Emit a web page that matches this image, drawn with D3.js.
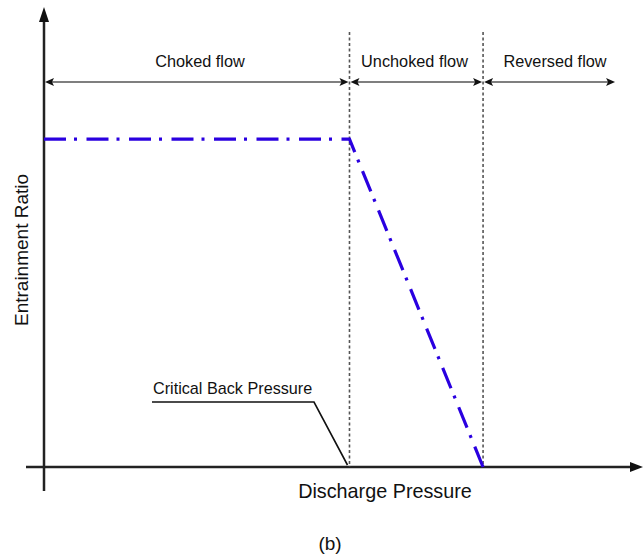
<!DOCTYPE html>
<html><head><meta charset="utf-8">
<script src="https://cdn.jsdelivr.net/npm/d3@7"></script>
<style>body{margin:0;background:#fff}svg{display:block}text{font-family:"Liberation Sans",Arial,sans-serif;fill:#111}</style>
</head><body><svg id="c" width="643" height="558"></svg>
<script>
// Schematic data (arbitrary units)
const regionNames = ["Choked flow", "Unchoked flow", "Reversed flow"];
const regionBounds = [0, 5.1, 7.33, 9.55];           // discharge pressure boundaries
const curveP = [0, 5.1, 7.33];                        // discharge pressure
const curveER = [1.0, 1.0, 0.0];                      // entrainment ratio
const xTitle = "Discharge Pressure";
const yTitle = "Entrainment Ratio";
const annotation = "Critical Back Pressure";
const caption = "(b)";

const svg = d3.select("#c");
const x = d3.scaleLinear().domain([0, 10]).range([44, 643]);
const y = d3.scaleLinear().domain([0, 1.4]).range([467, 8]);

// axes
svg.append("line").attr("x1", 26).attr("x2", 634).attr("y1", y(0)).attr("y2", y(0))
  .attr("stroke", "#222").attr("stroke-width", 2.5);
svg.append("path").attr("d", `M643,${y(0)} L630,${y(0)-5} L630,${y(0)+5} Z`).attr("fill", "#111");
svg.append("line").attr("x1", x(0)).attr("x2", x(0)).attr("y1", 491).attr("y2", 20)
  .attr("stroke", "#222").attr("stroke-width", 2.5);
svg.append("path").attr("d", `M${x(0)},7 L${x(0)-5},22 L${x(0)+5},22 Z`).attr("fill", "#111");

// dashed region boundaries
svg.selectAll("line.bd").data(regionBounds.slice(1, 3)).enter().append("line")
  .attr("x1", d => x(d)).attr("x2", d => x(d)).attr("y1", 32).attr("y2", y(0))
  .attr("stroke", "#555").attr("stroke-width", 1.6).attr("stroke-dasharray", "3,2.5");

// double arrows
const ay = 82;
regionNames.forEach((name, i) => {
  const a = x(regionBounds[i]), b = x(regionBounds[i + 1]);
  svg.append("line").attr("x1", a + 4).attr("x2", b - 4).attr("y1", ay).attr("y2", ay)
    .attr("stroke", "#555").attr("stroke-width", 1.5);
  svg.append("path").attr("d", `M${a+1},${ay} L${a+10},${ay-4} L${a+8},${ay} L${a+10},${ay+4} Z`).attr("fill", "#111");
  svg.append("path").attr("d", `M${b-1},${ay} L${b-10},${ay-4} L${b-8},${ay} L${b-10},${ay+4} Z`).attr("fill", "#111");
});
const labelX = [200, 414.5, 555];
svg.selectAll("text.rg").data(regionNames).enter().append("text")
  .attr("x", (d, i) => labelX[i]).attr("y", 67).attr("text-anchor", "middle")
  .attr("font-size", 16.3).text(d => d);

// entrainment curve
const line = d3.line().x(d => x(d[0])).y(d => y(d[1]));
svg.append("path").datum(curveP.map((p, i) => [p, curveER[i]]))
  .attr("d", line).attr("fill", "none").attr("stroke", "#2a00e0").attr("stroke-width", 3.2)
  .attr("stroke-dasharray", "22,8,3,9.5");

// annotation
svg.append("text").attr("x", 153).attr("y", 394).attr("font-size", 16.2).text(annotation);
svg.append("path").attr("d", `M152,402 L314,402 L${x(regionBounds[1])-2},465`)
  .attr("fill", "none").attr("stroke", "#111").attr("stroke-width", 1.6);

// titles
svg.append("text").attr("x", 385).attr("y", 498).attr("text-anchor", "middle")
  .attr("font-size", 19.8).text(xTitle);
svg.append("text").attr("transform", "translate(28,250) rotate(-90)").attr("text-anchor", "middle")
  .attr("font-size", 19).text(yTitle);
svg.append("text").attr("x", 330).attr("y", 550).attr("text-anchor", "middle")
  .attr("font-size", 19).text(caption);
</script></body></html>
